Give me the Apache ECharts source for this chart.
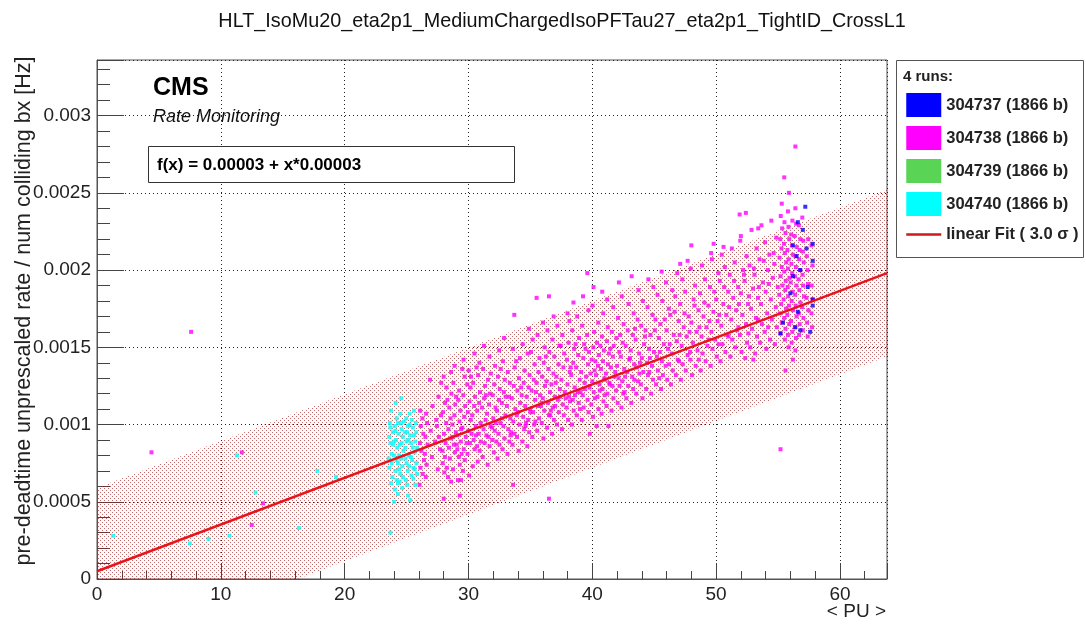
<!DOCTYPE html>
<html>
<head>
<meta charset="utf-8">
<style>
  html, body { margin: 0; padding: 0; background: #fff; }
  #chart { width: 1086px; height: 626px; }
</style>
<script src="https://cdn.jsdelivr.net/npm/echarts@6/dist/echarts.min.js"></script>
</head>
<body>
<div id="chart"></div>
<script>
// ---------------- data ----------------
const runNames = ['304737 (1866 b)', '304738 (1866 b)', '304739 (1866 b)', '304740 (1866 b)'];
const fitName = 'linear Fit ( 3.0 \u03c3 )';

// run 304737 (blue)
const bluePts = [
  [57.2,.00241],[56.6,.00231],[57.0,.00226],[57.8,.00217],[57.3,.00214],[56.5,.00209],[57.8,.00206],
  [56.8,.002],[56.2,.00196],[57.4,.00189],[56.0,.00185],[57.8,.00181],[57.8,.00177],[56.6,.00173],
  [55.4,.00166],[56.4,.00163],[55.2,.00159],[56.8,.00161],[57.6,.0016],[56.2,.00216]
];

// run 304738 (magenta)
const pinkPts = [
  [4.4,.00082],[7.6,.0016],[11.7,.00082],[12.5,.00035],[13.4,.00049],[26.9,.00129],[28.0,.00052],
  [29.3,.00054],[28.6,.00063],[29.4,.00064],[33.6,.00061],[36.5,.00052],[55.2,.00084],[35.5,.00182],
  [36.5,.00183],[33.7,.00171],[38.0,.00172],[39.6,.00198],[45.6,.00199],[47.1,.00204],[47.7,.00206],
  [48.0,.00216],[49.6,.00211],[49.8,.00217],[50.6,.00215],[51.9,.00236],[52.4,.00237],[52.0,.00222],
  [53.4,.00227],[55.5,.0026],[56.4,.0028],[53.0,.00142],[56.2,.00142],[55.6,.00135],[41.3,.00099],[39.8,.00094],
  [26.05,.00061],[26.3,.00068],[26.12,.00072],[26.41,.00077],[26.2,.00083],[26.08,.00088],[26.35,.00094],[26.15,.00099],[26.28,.00104],[26.1,.00109],
  [26.55,.00066],[26.62,.00074],[26.48,.00081],[26.7,.00087],[26.52,.00092],[26.66,.00101],[26.58,.00107],
  [27.05,.00079],[26.95,.00096],[27.1,.00112],
  [27.52,.00071],[27.7,.00084],[27.61,.00092],[27.45,.00099],[27.78,.00106],[27.58,.00118],
  [28.05,.00069],[27.92,.00075],[28.15,.00088],[28.02,.00094],[28.2,.00101],[27.95,.00108],[28.1,.00114],[28.22,.00124],[28.0,.00131],
  [28.35,.00066],[28.5,.00078],[28.42,.00085],[28.6,.00091],[28.38,.00097],[28.55,.00104],[28.45,.00111],[28.62,.0012],
  [28.75,.00071],[28.9,.00082],[28.82,.00087],[28.98,.00095],[28.7,.001],[28.86,.00106],[28.93,.00113],[28.78,.00127],[28.88,.00138],
  [29.15,.00064],[29.3,.00074],[29.22,.00079],[29.38,.00089],[29.1,.00093],[29.27,.00102],[29.34,.00109],[29.18,.00116],[29.25,.00122],
  [29.55,.0007],[29.7,.00077],[29.62,.00084],[29.78,.00092],[29.5,.00098],[29.66,.00105],[29.73,.00112],[29.58,.00119],[29.69,.00131],[29.6,.00142],
  [30.05,.00067],[29.92,.00081],[30.12,.00088],[30.0,.00096],[30.18,.00103],[29.95,.00108],[30.08,.00115],[30.15,.00124],[30.02,.00135],
  [30.35,.00073],[30.5,.00084],[30.42,.0009],[30.58,.00099],[30.3,.00106],[30.46,.00112],[30.53,.00118],[30.38,.00127],[30.48,.00146],
  [30.75,.00076],[30.9,.00083],[30.82,.00094],[30.98,.00101],[30.7,.00109],[30.86,.00114],[30.93,.00121],[30.78,.00132],[30.88,.0014],
  [31.15,.00079],[31.3,.00088],[31.22,.00097],[31.38,.00103],[31.1,.00111],[31.27,.00117],[31.34,.00125],[31.18,.00136],[31.25,.00151],
  [31.55,.00074],[31.7,.00086],[31.62,.00092],[31.78,.00099],[31.5,.00107],[31.66,.00113],[31.73,.0012],[31.58,.00129],[31.69,.00144],
  [32.05,.00082],[31.92,.0009],[32.12,.00096],[32.0,.00104],[32.18,.00111],[31.95,.00119],[32.08,.00126],[32.15,.00138],
  [32.35,.00078],[32.5,.00087],[32.42,.00094],[32.58,.00101],[32.3,.00109],[32.46,.00116],[32.53,.00123],[32.38,.00131],[32.48,.00148],
  [32.75,.00084],[32.9,.00091],[32.82,.00099],[32.98,.00106],[32.7,.00114],[32.86,.00121],[32.93,.00129],[32.78,.00141],[32.88,.00156],
  [33.15,.00081],[33.3,.00089],[33.22,.00097],[33.38,.00104],[33.1,.00112],[33.27,.00118],[33.34,.00127],[33.18,.00134],
  [33.55,.00087],[33.7,.00094],[33.62,.00102],[33.78,.0011],[33.5,.00117],[33.66,.00125],[33.73,.00137],[33.58,.00149],
  [34.05,.00083],[33.92,.00092],[34.12,.001],[34.0,.00108],[34.18,.00114],[33.95,.00122],[34.08,.0013],[34.15,.00143],
  [34.35,.00089],[34.5,.00097],[34.42,.00105],[34.58,.00112],[34.3,.00119],[34.46,.00127],[34.53,.00135],[34.38,.00152],
  [34.75,.00086],[34.9,.00095],[34.82,.00103],[34.98,.0011],[34.7,.00118],[34.86,.00124],[34.93,.00132],[34.78,.00146],[34.88,.00162],
  [35.15,.00092],[35.3,.001],[35.22,.00108],[35.38,.00116],[35.1,.00122],[35.27,.00129],[35.34,.00139],[35.18,.00155],
  [35.55,.00096],[35.7,.00104],[35.62,.00112],[35.78,.00119],[35.5,.00127],[35.66,.00134],[35.73,.00143],[35.58,.00158],
  [36.05,.00091],[35.92,.00101],[36.12,.00109],[36.0,.00117],[36.18,.00125],[35.95,.00131],[36.08,.0014],[36.15,.0015],[36.02,.00166],
  [36.35,.00098],[36.5,.00106],[36.42,.00114],[36.58,.00121],[36.3,.00128],[36.46,.00136],[36.53,.00147],[36.38,.00161],
  [36.75,.00094],[36.9,.00103],[36.82,.00111],[36.98,.00118],[36.7,.00126],[36.86,.00133],[36.93,.00144],[36.78,.00155],[36.88,.0017],
  [37.15,.001],[37.3,.00108],[37.22,.00116],[37.38,.00123],[37.1,.00131],[37.27,.00139],[37.34,.00151],[37.18,.00164],
  [37.55,.00097],[37.7,.00106],[37.62,.00113],[37.78,.00121],[37.5,.00129],[37.66,.00137],[37.73,.00146],[37.58,.00158],
  [38.05,.00103],[37.92,.00111],[38.12,.00118],[38.0,.00126],[38.18,.00134],[37.95,.00142],[38.08,.00153],[38.15,.00167],
  [38.35,.001],[38.5,.00109],[38.42,.00116],[38.58,.00124],[38.3,.00132],[38.46,.0014],[38.53,.00149],[38.38,.00161],[38.48,.00179],
  [38.75,.00106],[38.9,.00114],[38.82,.00121],[38.98,.00129],[38.7,.00137],[38.86,.00145],[38.93,.00156],[38.78,.0017],
  [39.15,.00103],[39.3,.00111],[39.22,.00119],[39.38,.00127],[39.1,.00134],[39.27,.00143],[39.34,.00152],[39.18,.00164],[39.25,.00183],
  [39.7,.00108],[39.62,.00116],[39.78,.00124],[39.5,.00131],[39.66,.00139],[39.73,.00147],[39.58,.00158],[39.69,.00174],
  [40.05,.00105],[39.92,.00113],[40.12,.00121],[40.0,.00128],[40.18,.00135],[39.95,.00142],[40.08,.0015],[40.15,.0016],[40.02,.00177],[40.1,.00189],
  [40.35,.00099],[40.5,.0011],[40.42,.00118],[40.58,.00126],[40.3,.00132],[40.46,.00138],[40.53,.00145],[40.38,.00153],[40.48,.00166],
  [40.75,.00107],[40.9,.00115],[40.82,.00123],[40.98,.0013],[40.7,.00136],[40.86,.00141],[40.93,.00148],[40.78,.00157],[40.88,.00172],[40.8,.00186],
  [41.15,.00112],[41.22,.0012],[41.38,.00127],[41.1,.00133],[41.27,.00139],[41.34,.00146],[41.18,.00154],[41.25,.00163],[41.2,.00181],
  [41.55,.00109],[41.7,.00117],[41.62,.00125],[41.78,.00131],[41.5,.00137],[41.66,.00144],[41.73,.00151],[41.58,.0016],[41.69,.00176],
  [42.05,.00114],[41.92,.00122],[42.12,.0013],[42.0,.00138],[42.18,.00147],[41.95,.00156],[42.08,.00169],[42.15,.00192],
  [42.35,.00111],[42.5,.0012],[42.42,.00128],[42.58,.00136],[42.3,.00144],[42.46,.00153],[42.53,.00165],[42.38,.00183],
  [42.75,.00117],[42.9,.00125],[42.82,.00134],[42.98,.00142],[42.7,.00151],[42.86,.00161],[42.93,.00178],
  [43.15,.00114],[43.3,.00123],[43.22,.00131],[43.38,.00139],[43.1,.00148],[43.27,.00158],[43.34,.00172],[43.18,.00196],
  [43.55,.0012],[43.7,.00128],[43.62,.00137],[43.78,.00146],[43.5,.00155],[43.66,.00168],[43.73,.00187],
  [44.05,.00117],[43.92,.00126],[44.12,.00134],[44.0,.00143],[44.18,.00152],[43.95,.00164],[44.08,.0018],
  [44.35,.00123],[44.5,.00132],[44.42,.0014],[44.58,.00149],[44.3,.00161],[44.46,.00176],[44.53,.00194],
  [44.75,.0012],[44.9,.00129],[44.82,.00138],[44.98,.00147],[44.7,.00158],[44.86,.00171],[44.93,.00189],
  [45.15,.00126],[45.3,.00135],[45.22,.00144],[45.38,.00156],[45.1,.00168],[45.27,.00184],
  [45.55,.00123],[45.7,.00132],[45.62,.00141],[45.78,.00152],[45.5,.00165],[45.66,.0018],
  [46.05,.00129],[45.92,.00138],[46.12,.00149],[46.0,.00161],[46.18,.00175],[45.95,.00192],
  [46.35,.00126],[46.5,.00135],[46.42,.00146],[46.58,.00158],[46.3,.00171],[46.46,.00187],
  [46.75,.00132],[46.9,.00142],[46.82,.00154],[46.98,.00167],[46.7,.00183],[46.86,.00198],
  [47.15,.00129],[47.3,.00139],[47.22,.00151],[47.38,.00163],[47.1,.00178],[47.27,.00194],
  [47.55,.00135],[47.7,.00145],[47.62,.00157],[47.78,.0017],[47.5,.00186],
  [48.05,.00132],[47.92,.00142],[48.12,.00153],[48.0,.00166],[48.18,.00181],[47.95,.00201],
  [48.35,.00138],[48.5,.00148],[48.42,.0016],[48.58,.00174],[48.3,.0019],
  [48.75,.00135],[48.9,.00146],[48.82,.00157],[48.98,.0017],[48.7,.00185],[48.86,.00203],
  [49.15,.00141],[49.3,.00151],[49.22,.00163],[49.38,.00177],[49.1,.00194],
  [49.55,.00138],[49.7,.00149],[49.62,.0016],[49.78,.00173],[49.5,.00189],[49.66,.00207],
  [50.05,.00144],[49.92,.00155],[50.12,.00167],[50.0,.00181],[50.18,.00198],
  [50.35,.00141],[50.5,.00152],[50.42,.00164],[50.58,.00178],[50.3,.00193],[50.46,.0021],
  [50.75,.00147],[50.9,.00158],[50.82,.00171],[50.98,.00186],[50.7,.00202],
  [51.15,.00144],[51.3,.00155],[51.22,.00168],[51.38,.00182],[51.1,.00197],[51.27,.00214],
  [51.55,.0015],[51.7,.00161],[51.62,.00174],[51.78,.00189],[51.5,.00205],
  [52.05,.00147],[51.92,.00158],[52.12,.00171],[52.0,.00185],[52.18,.002],[51.95,.00219],
  [52.35,.00143],[52.5,.00153],[52.42,.00165],[52.58,.00178],[52.3,.00193],[52.46,.00209],
  [52.75,.0015],[52.9,.00162],[52.82,.00175],[52.98,.00188],[52.7,.00203],[52.86,.00226],
  [53.15,.00146],[53.3,.00157],[53.22,.00169],[53.38,.00182],[53.1,.00197],[53.27,.00214],
  [53.55,.00153],[53.7,.00165],[53.62,.00178],[53.78,.00192],[53.5,.00207],[53.66,.00229],
  [54.05,.00149],[53.92,.0016],[54.12,.00172],[54.0,.00186],[54.18,.002],[53.95,.00218],
  [54.35,.00155],[54.5,.00168],[54.42,.00181],[54.58,.00195],[54.3,.0021],[54.46,.00232],
  [54.75,.00152],[54.9,.00163],[54.82,.00176],[54.98,.00189],[54.7,.00204],[54.86,.00221],
  [55.2,.00159],[55.3,.00166],[55.15,.00172],[55.25,.00178],[55.1,.00184],[55.35,.0019],[55.2,.00196],[55.3,.00202],[55.12,.00208],[55.28,.00214],[55.18,.0022],[55.33,.00227],[55.22,.00235],[55.3,.00243],
  [55.55,.00155],[55.6,.00162],[55.5,.00169],[55.65,.00175],[55.45,.00181],[55.58,.00187],[55.62,.00193],[55.5,.00199],[55.66,.00205],[55.55,.00211],[55.48,.00217],[55.6,.00224],[55.52,.00231],
  [55.85,.0015],[55.8,.00158],[55.9,.00165],[55.75,.00171],[55.88,.00177],[55.82,.00183],[55.78,.00189],[55.92,.00195],[55.8,.00201],[55.86,.00207],[55.76,.00213],[55.9,.0022],[55.84,.00228],[55.8,.00238],[55.88,.0025],
  [56.1,.00153],[56.15,.0016],[56.05,.00167],[56.2,.00174],[56.1,.0018],[56.18,.00186],[56.02,.00192],[56.14,.00198],[56.08,.00204],[56.2,.0021],[56.12,.00216],[56.06,.00223],[56.16,.00232],
  [56.4,.00148],[56.45,.00156],[56.35,.00163],[56.5,.0017],[56.42,.00177],[56.38,.00184],[56.48,.0019],[56.36,.00196],[56.44,.00202],[56.4,.00209],[56.5,.00215],[56.34,.00222],[56.46,.0023],[56.4,.0024],
  [56.7,.00158],[56.75,.00165],[56.68,.00172],[56.8,.00179],[56.72,.00187],[56.66,.00194],[56.78,.002],[56.7,.00207],[56.74,.00213],[56.8,.0022],[56.68,.00229],
  [57.0,.00161],[57.05,.00169],[56.95,.00176],[57.1,.00183],[57.02,.0019],[56.98,.00197],[57.08,.00205],[57.0,.00212],[57.04,.00219],[56.96,.00234],
  [57.4,.00157],[57.35,.00166],[57.45,.00174],[57.3,.00182],[57.42,.00191],[57.38,.002],[57.32,.00209],[57.44,.0022],
  [57.75,.00163],[57.7,.00172],[57.8,.00181],[57.72,.0019],[57.78,.00203],[57.7,.00216],
  // second pass over the denser parts of the cloud
  [27.3,.00089],[27.8,.00127],[28.3,.00116],[28.7,.00092],[29.0,.00118],[29.4,.00097],[29.9,.00126],[27.4,.00103],
  [28.1,.00079],[28.6,.00134],[29.1,.00084],[29.5,.00136],[29.85,.00088],[30.2,.00131],[30.6,.00093],[30.65,.00137],
  [31.0,.00089],[31.4,.00119],[31.8,.00133],[32.2,.00101],[32.6,.00136],[33.0,.00118],[33.45,.00095],[33.85,.00141],
  [34.25,.00124],[34.65,.00101],[35.05,.00147],[35.45,.00121],[35.85,.00112],[36.25,.00144],[36.65,.00109],[37.05,.00127],
  [37.45,.00151],[37.85,.00117],[38.25,.00137],[38.65,.00152],[39.05,.00121],[39.45,.00149],[39.85,.00133],[40.25,.00141],
  [40.65,.00151],[41.05,.00129],[41.45,.00149],[41.85,.00134],[42.25,.00158],[42.65,.00131],[43.05,.00143],[43.45,.00162],
  [43.85,.0014],[44.25,.00157],[44.65,.00143],[45.05,.00161],[45.45,.00147],[45.85,.00168],[46.25,.00152],[46.65,.00173],
  [47.05,.00158],[47.45,.00172],[47.85,.0016],[48.25,.00177],[48.65,.00163],[49.05,.00179],[49.45,.00167],[49.85,.00186],
  [50.25,.00171],[50.65,.00189],[51.05,.00176],[51.45,.00193],[51.85,.00178],[52.25,.00197],[52.65,.00183],[53.05,.00201],
  [53.45,.00189],[53.85,.00206],[54.25,.00191],[54.65,.00211],
  [27.9,.00083],[28.25,.00072],[29.05,.00087],[29.45,.00081],[30.25,.00094],[30.7,.00086],[31.45,.00093],[31.9,.00098],
  [32.25,.00089],[32.7,.00104],[33.4,.00093],[33.9,.00106],[34.6,.00099],[35.0,.00108],[35.4,.00102],[35.9,.00114],
  [36.6,.00106],[37.0,.00112],[37.4,.00118],[38.2,.00115],[38.6,.00119],[39.0,.0011],[39.4,.00123],[40.2,.00117],
  [40.6,.00122],[41.0,.00119],[41.4,.00126],[42.2,.00125],[42.6,.00121],[43.4,.00129],[43.8,.00133],[44.6,.00134],
  [45.4,.0013],[46.2,.00139],[47.0,.00141],[47.9,.00147],[48.6,.00142],[49.4,.00155],[50.2,.00152],[51.0,.00157],
  [51.8,.00163],[52.6,.00159],[53.4,.00168],[54.2,.00163]
];

// run 304739 (green): no points visible in the picture
const greenPts = [];

// run 304740 (cyan)
const cyanPts = [
  [1.3,.00028],[7.5,.00023],[9.0,.00026],[10.7,.00028],[11.3,.0008],[12.8,.00056],[16.3,.00033],
  [17.8,.0007],[19.3,.00066],[23.7,.0003],[24.0,.0005],[24.3,.00055],[25.3,.00051],
  [23.6,.00072],[23.8,.00081],[23.7,.00088],[23.9,.00095],[23.65,.00101],[23.85,.00066],[23.75,.00109],[23.55,.00078],
  [24.05,.00058],[24.2,.00064],[24.1,.0007],[24.3,.00075],[24.0,.0008],[24.25,.00085],[24.15,.0009],[24.35,.00094],[24.05,.00099],[24.2,.00104],[24.12,.00114],[24.3,.00062],
  [24.5,.00068],[24.65,.00073],[24.55,.00078],[24.75,.00083],[24.45,.00087],[24.7,.00092],[24.6,.00097],[24.8,.00102],[24.5,.00107],[24.65,.00059],[24.58,.00117],
  [24.95,.00064],[25.1,.0007],[25.0,.00075],[25.2,.0008],[24.9,.00085],[25.15,.0009],[25.05,.00095],[25.25,.001],[24.98,.00104],[25.12,.00054],
  [25.4,.00067],[25.55,.00072],[25.45,.00077],[25.65,.00082],[25.35,.00088],[25.6,.00093],[25.5,.00098],[25.7,.00061],[25.42,.00103],[25.6,.00109],
  [25.8,.00075],[25.85,.00085],[25.78,.00095],
  [23.6,.00092],[23.8,.00075],[23.7,.00098],[23.9,.00087],[24.1,.00096],[24.2,.00077],[24.3,.00101],[24.4,.0008],
  [24.4,.00071],[24.6,.00088],[24.7,.00066],[24.85,.00095],[24.9,.00078],[25.0,.00089],[25.1,.00099],[25.2,.00073],
  [25.3,.00093],[25.35,.00079],[25.5,.00085],[25.55,.00065],[25.7,.00089],[25.75,.00101],[25.65,.00071],[24.0,.00089],
  [24.55,.00101],[25.25,.00107],[23.75,.00062],[24.45,.00063],[25.05,.00061],[25.85,.00068]
];

// linear fit and its 3 sigma band, end points read at x = 0 and x = 63.8
const fitLine = [[0, .00005], [63.8, .00198]];
const bandLow = [[0, -.00049], [63.8, .00144]];
const bandHigh = [[0, .00059], [63.8, .00252]];

// ---------------- chart ----------------
const chart = echarts.init(document.getElementById('chart'), null, { renderer: 'canvas' });

// dotted hatch fill like the ROOT band
const hatch = document.createElement('canvas');
hatch.width = 4; hatch.height = 4;
const hc = hatch.getContext('2d');
hc.fillStyle = 'rgba(170,40,40,0.7)';
hc.fillRect(0, 0, 1, 1);
hc.fillRect(2, 2, 1, 1);

// Sutherland-Hodgman clip of a pixel polygon to the plot rectangle
function clipToRect(pts, r) {
  const edges = [
    [p => p[0] >= r.x, (a, b) => { const t = (r.x - a[0]) / (b[0] - a[0]); return [r.x, a[1] + t * (b[1] - a[1])]; }],
    [p => p[0] <= r.x + r.width, (a, b) => { const x = r.x + r.width, t = (x - a[0]) / (b[0] - a[0]); return [x, a[1] + t * (b[1] - a[1])]; }],
    [p => p[1] >= r.y, (a, b) => { const t = (r.y - a[1]) / (b[1] - a[1]); return [a[0] + t * (b[0] - a[0]), r.y]; }],
    [p => p[1] <= r.y + r.height, (a, b) => { const y = r.y + r.height, t = (y - a[1]) / (b[1] - a[1]); return [a[0] + t * (b[0] - a[0]), y]; }]
  ];
  let out = pts;
  edges.forEach(([inside, cut]) => {
    const src = out; out = [];
    for (let i = 0; i < src.length; i++) {
      const cur = src[i], prev = src[(i + src.length - 1) % src.length];
      if (inside(cur)) {
        if (!inside(prev)) out.push(cut(prev, cur));
        out.push(cur);
      } else if (inside(prev)) {
        out.push(cut(prev, cur));
      }
    }
  });
  return out;
}

const FONT = '"Liberation Sans", Arial, Helvetica, sans-serif';
const colors = ['#0000ff', '#ff00ff', '#59d454', '#00ffff'];
const gridDots = { type: [1, 3], color: '#222', width: 1 };

const option = {
  animation: false,
  textStyle: { fontFamily: FONT },
  grid: {
    left: 97, right: 199, top: 60, bottom: 47,
    show: true, borderColor: '#555', borderWidth: 1, backgroundColor: 'transparent'
  },
  legend: {
    left: 905, top: 93, orient: 'vertical',
    itemWidth: 35, itemHeight: 24, itemGap: 9, padding: 0,
    selectedMode: false,
    textStyle: { fontFamily: FONT, fontSize: 16.5, fontWeight: 'bold', color: '#222' },
    data: [
      { name: runNames[0], icon: 'rect', itemStyle: { color: colors[0], opacity: 1 } },
      { name: runNames[1], icon: 'rect', itemStyle: { color: colors[1], opacity: 1 } },
      { name: runNames[2], icon: 'rect', itemStyle: { color: colors[2], opacity: 1 } },
      { name: runNames[3], icon: 'rect', itemStyle: { color: colors[3], opacity: 1 } },
      { name: fitName, itemStyle: { opacity: 0 }, lineStyle: { color: '#cc1a1a', width: 2.5 } }
    ]
  },
  xAxis: {
    type: 'value', min: 0, max: 63.8, interval: 10,
    axisLine: { show: true, lineStyle: { color: '#555', width: 1 } },
    axisTick: { show: true, inside: true, length: 16, lineStyle: { color: '#444' } },
    minorTick: { show: true, splitNumber: 5, length: 8, lineStyle: { color: '#444' } },
    splitLine: { show: true, lineStyle: gridDots },
    axisLabel: { showMaxLabel: false, fontSize: 19, color: '#222', margin: 6, fontFamily: FONT }
  },
  yAxis: {
    type: 'value', min: 0, max: 0.00336, interval: 0.0005,
    axisLine: { show: true, lineStyle: { color: '#555', width: 1 } },
    axisTick: { show: true, inside: true, length: 27, lineStyle: { color: '#444' } },
    minorTick: { show: true, splitNumber: 5, length: 13, lineStyle: { color: '#444' } },
    splitLine: { show: true, lineStyle: gridDots },
    axisLabel: {
      showMaxLabel: false, fontSize: 19, color: '#222', margin: 6, fontFamily: FONT,
      formatter: v => (v === 0 ? '0' : String(+v.toFixed(4)))
    }
  },
  series: [
    {
      name: 'band', type: 'custom', data: [0], silent: true, z: 1,
      renderItem: (params, api) => {
        const poly = bandHigh.map(p => api.coord(p))
          .concat(bandLow.slice().reverse().map(p => api.coord(p)));
        return {
          type: 'polygon',
          shape: { points: clipToRect(poly, params.coordSys) },
          style: { fill: { image: hatch, repeat: 'repeat' } }
        };
      }
    },
    {
      name: runNames[1], type: 'scatter', data: pinkPts, symbol: 'rect', symbolSize: 4,
      itemStyle: { color: colors[1] }, z: 3
    },
    {
      name: runNames[0], type: 'scatter', data: bluePts, symbol: 'rect', symbolSize: 4,
      itemStyle: { color: colors[0] }, z: 4
    },
    {
      name: runNames[2], type: 'scatter', data: greenPts, symbol: 'rect', symbolSize: 4,
      itemStyle: { color: colors[2] }, z: 4
    },
    {
      name: runNames[3], type: 'scatter', data: cyanPts, symbol: 'rect', symbolSize: 4,
      itemStyle: { color: colors[3] }, z: 4
    },
    {
      name: fitName, type: 'line', data: fitLine, symbol: 'none',
      lineStyle: { color: '#e8141c', width: 2.5 }, itemStyle: { color: '#e8141c' }, z: 6
    }
  ],
  graphic: [
    {
      type: 'text', x: 562, y: 22,
      style: { text: 'HLT_IsoMu20_eta2p1_MediumChargedIsoPFTau27_eta2p1_TightID_CrossL1',
        font: '19.8px ' + FONT, fill: '#111', align: 'center', verticalAlign: 'middle' }
    },
    {
      type: 'text', x: 24, y: 311, rotation: Math.PI / 2,
      style: { text: 'pre-deadtime unprescaled rate / num colliding bx [Hz]',
        font: '21.5px ' + FONT, fill: '#222', align: 'center', verticalAlign: 'middle' }
    },
    {
      type: 'text', x: 886, y: 612,
      style: { text: '< PU >', font: '19px ' + FONT, fill: '#222', align: 'right', verticalAlign: 'middle' }
    },
    {
      type: 'text', x: 153, y: 88, z: 10,
      style: { text: 'CMS', font: 'bold 25px ' + FONT, fill: '#000', verticalAlign: 'middle' }
    },
    {
      type: 'text', x: 153, y: 117, z: 10,
      style: { text: 'Rate Monitoring', font: 'italic 18px ' + FONT, fill: '#111', verticalAlign: 'middle' }
    },
    {
      type: 'rect', shape: { x: 148.5, y: 146.5, width: 366, height: 36 }, z: 10,
      style: { fill: '#fff', stroke: '#333', lineWidth: 1 }
    },
    {
      type: 'text', x: 157, y: 165, z: 11,
      style: { text: 'f(x) = 0.00003 + x*0.00003', font: 'bold 17px ' + FONT, fill: '#000', verticalAlign: 'middle' }
    },
    {
      type: 'rect', shape: { x: 896.5, y: 60.5, width: 187, height: 197 }, z: 10,
      style: { fill: 'transparent', stroke: '#555', lineWidth: 1 }
    },
    {
      type: 'text', x: 903, y: 77, z: 11,
      style: { text: '4 runs:', font: 'bold 15px ' + FONT, fill: '#222', verticalAlign: 'middle' }
    }
  ]
};

chart.setOption(option);
</script>
</body>
</html>
